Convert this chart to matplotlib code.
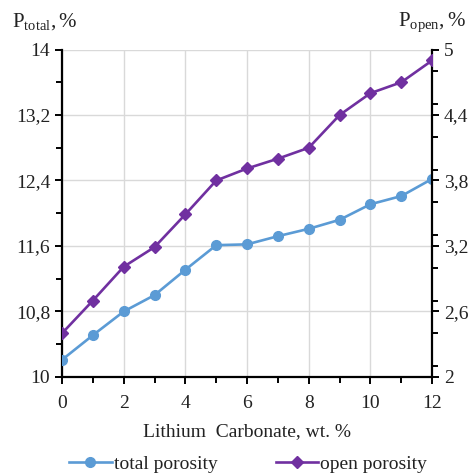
import matplotlib.pyplot as plt
import numpy as np
from matplotlib.ticker import MultipleLocator

# --- data ---
li2co3 = [0, 1, 2, 3, 4, 5, 6, 7, 8, 9, 10, 11, 12]
p_total = [10.21, 10.51, 10.80, 11.00, 11.31, 11.61, 11.62, 11.72, 11.81, 11.92, 12.11, 12.21, 12.42]
p_open = [2.40, 2.70, 3.01, 3.19, 3.49, 3.80, 3.91, 4.00, 4.10, 4.40, 4.60, 4.70, 4.90]

x_ticks = [0, 2, 4, 6, 8, 10, 12]
left_ticks = [10, 10.8, 11.6, 12.4, 13.2, 14]
left_labels = ['10', '10,8', '11,6', '12,4', '13,2', '14']
right_ticks = [2, 2.6, 3.2, 3.8, 4.4, 5]
right_labels = ['2', '2,6', '3,2', '3,8', '4,4', '5']

blue = '#5B9BD5'
purple = '#7030A0'
txt = '#222222'

plt.rcParams['font.family'] = ['Liberation Serif', 'DejaVu Serif']
plt.rcParams['mathtext.fontset'] = 'custom'
plt.rcParams['mathtext.rm'] = 'Liberation Serif'
plt.rcParams['mathtext.it'] = 'Liberation Serif'

fig = plt.figure(figsize=(4.77, 4.76), dpi=100)
ax = fig.add_axes([0.130, 0.208, 0.776, 0.688])
ax2 = ax.twinx()

l1, = ax.plot(li2co3, p_total, color=blue, lw=1.9, marker='o', ms=7,
              label='total porosity', zorder=3)
l2, = ax2.plot(li2co3, p_open, color=purple, lw=1.9, marker='D', ms=6.5,
               label='open porosity', zorder=3)

ax.set_xlim(0, 12)
ax.set_ylim(10, 14)
ax2.set_ylim(2, 5)

ax.set_xticks(x_ticks)
ax.xaxis.set_minor_locator(MultipleLocator(1))
ax.set_yticks(left_ticks)
ax.set_yticklabels(left_labels)
ax.yaxis.set_minor_locator(MultipleLocator(0.4))
ax2.set_yticks(right_ticks)
ax2.set_yticklabels(right_labels)
ax2.yaxis.set_minor_locator(MultipleLocator(0.3))

ax.grid(True, which='major', color='#D9D9D9', lw=1.0)
ax.set_axisbelow(True)

for a in (ax, ax2):
    a.spines['top'].set_visible(False)
    for s in a.spines.values():
        s.set_linewidth(1.6)
        s.set_color('black')
    a.tick_params(which='both', direction='out', width=1.4, colors='black',
                  labelcolor=txt, labelsize=14)
    a.tick_params(which='major', length=5)
    a.tick_params(which='minor', length=4)
ax.tick_params(axis='x', which='major', pad=8)
ax.spines['right'].set_visible(False)
ax2.spines['left'].set_visible(False)
ax2.spines['bottom'].set_visible(False)

ax.set_xlabel('Lithium  Carbonate, wt. %', fontsize=14, color=txt, labelpad=8)

fig.text(0.025, 0.945, r'$\mathregular{P_{total},}$%', fontsize=15, color=txt, va='baseline')
fig.text(0.835, 0.945, r'$\mathregular{P_{open},}$%', fontsize=15, color=txt, va='baseline')

fig.legend(handles=[l1, l2], loc='lower center', bbox_to_anchor=(0.52, -0.03),
           ncol=2, frameon=False, fontsize=14, handlelength=2.2,
           handletextpad=0.1, columnspacing=3.0, labelcolor=txt)

plt.savefig('out.png', dpi=100)
